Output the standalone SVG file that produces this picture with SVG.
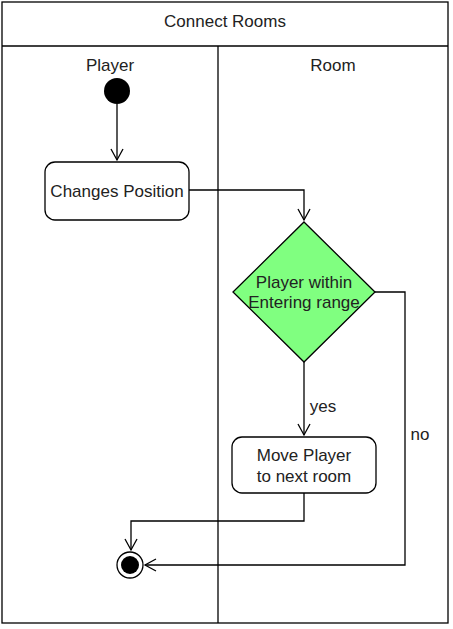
<svg xmlns="http://www.w3.org/2000/svg" width="453" height="629" viewBox="0 0 453 629">
<style>
.ln{fill:none;stroke:#000;stroke-width:1.3}
.t{font-family:"Liberation Sans",Arial,sans-serif;font-size:17px;fill:#222;text-anchor:middle}
.box{fill:#fff;stroke:#000;stroke-width:1.3}
</style>
<defs>
<marker id="arr" markerWidth="14" markerHeight="14" refX="12" refY="7" orient="auto" markerUnits="userSpaceOnUse">
<path d="M1,1 L12,7 L1,13" fill="none" stroke="#000" stroke-width="1.3"/>
</marker>
</defs>
<rect width="453" height="629" fill="#fff"/>
<g id="pool">
<rect x="2" y="2" width="446" height="621" class="box"/>
<line x1="2" y1="46" x2="448" y2="46" class="ln"/>
<line x1="218" y1="46" x2="218" y2="623" class="ln"/>
<text x="225" y="27" class="t">Connect Rooms</text>
<text x="110" y="71" class="t">Player</text>
<text x="333" y="71" class="t">Room</text>
</g>
<g id="connectors">
<path d="M117,104 V160" class="ln" marker-end="url(#arr)"/>
<path d="M189,190 H304 V220" class="ln" marker-end="url(#arr)"/>
<path d="M304,362 V435" class="ln" marker-end="url(#arr)"/>
<path d="M375,292 H405 V565 H145" class="ln" marker-end="url(#arr)"/>
<path d="M304,493 V521 H131 V550" class="ln" marker-end="url(#arr)"/>
<text x="323" y="412" class="t">yes</text>
<text x="420" y="440" class="t">no</text>
</g>
<g id="start">
<circle cx="117" cy="91" r="13" fill="#000"/>
</g>
<g id="changes">
<rect x="45" y="162" width="144" height="58" rx="10" class="box"/>
<text x="117" y="197" class="t">Changes Position</text>
</g>
<g id="decision">
<path d="M304,222 L375,292 L304,362 L233,292 Z" fill="#80ff80" stroke="#000" stroke-width="1.3"/>
<text x="304" y="288" class="t">Player within</text>
<text x="304" y="308" class="t">Entering range</text>
</g>
<g id="move">
<rect x="232" y="437" width="144" height="56" rx="10" class="box"/>
<text x="304" y="461" class="t">Move Player</text>
<text x="304" y="482" class="t">to next room</text>
</g>
<g id="end">
<circle cx="130" cy="565" r="13" fill="#fff" stroke="#000" stroke-width="1.3"/>
<circle cx="130" cy="565" r="9" fill="#000"/>
</g>
</svg>
